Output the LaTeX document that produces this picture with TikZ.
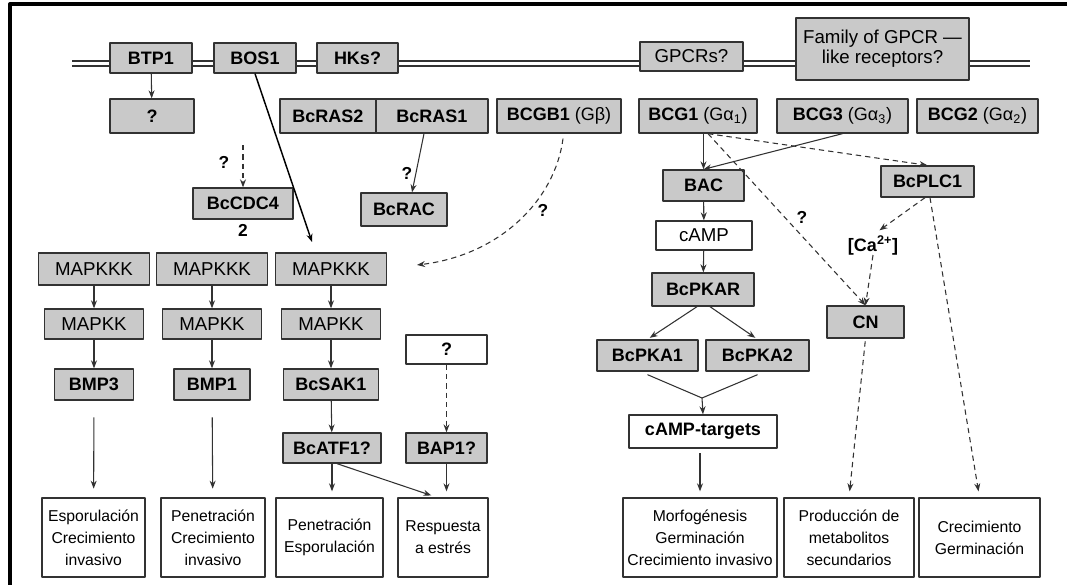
\documentclass[tikz,border=0pt]{standalone}
\usepackage{fontspec}
\setmainfont{Liberation Sans}
\usetikzlibrary{arrows.meta,positioning}
\definecolor{boxgray}{RGB}{201,201,201}
\definecolor{linegray}{RGB}{50,50,50}
\begin{document}
\begin{tikzpicture}[x=0.75pt,y=-0.75pt,line join=round,>={Stealth[length=6pt,width=4.5pt]},
	sz/.style 2 args={minimum width=#1*0.75pt,minimum height=#2*0.75pt},
	gbox/.style={draw=linegray,fill=boxgray,line width=1pt,inner sep=1pt,font=\fontsize{13.5}{15}\selectfont\bfseries},
	wbox/.style={gbox,fill=white},
	rg/.style={font=\fontsize{14}{15}\selectfont},
	outbox/.style={draw=linegray,line width=1pt,inner sep=1pt,align=center,font=\fontsize{11.8}{16.5}\selectfont},
	link/.style={draw=linegray,line width=0.8pt,->},
	dlink/.style={link,dash pattern=on 4pt off 3pt},
	qmark/.style={inner sep=0pt,font=\fontsize{13}{15}\selectfont\bfseries}]
	\useasboundingbox (0,0) rectangle (1067,585);
	\draw[line width=3pt] (10.3,585) -- (10.3,4) -- (1067,4);
	\draw[linegray,line width=0.9pt] (72,61) -- (1030,61) (72,66) -- (1030,66);
	% membrane
	\node[gbox,sz={82}{30}] (btp1) at (151,58) {BTP1};
	\node[gbox,sz={82}{30}] (bos1) at (255,58) {BOS1};
	\node[gbox,sz={81}{30}] (hks) at (357.5,58) {HKs?};
	\node[gbox,rg,sz={103}{29}] (gpcrs) at (691.5,56.5) {GPCRs?};
	\node[gbox,rg,sz={173}{62},align=center] (family) at (882.5,49) {Family of GPCR —\\like receptors?};
	% second row
	\node[gbox,sz={84}{34}] (qbtp) at (152,116) {?};
	\node[gbox,sz={96}{34}] (ras2) at (328,116) {BcRAS2};
	\node[gbox,sz={112}{34}] (ras1) at (432,116) {BcRAS1};
	\node[gbox,sz={124}{34}] (bcgb1) at (559,116) {BCGB1 \mdseries(Gβ)};
	\node[gbox,sz={118}{34}] (bcg1) at (698,116) {BCG1 \mdseries(Gα\textsubscript{1})};
	\node[gbox,sz={131}{34}] (bcg3) at (842.5,116) {BCG3 \mdseries(Gα\textsubscript{3})};
	\node[gbox,sz={121}{34}] (bcg2) at (977.5,116) {BCG2 \mdseries(Gα\textsubscript{2})};
	\node[gbox,sz={100}{31}] (cdc4) at (243,203.5) {BcCDC4};
	\node[qmark] (two) at (243,230) {2};
	\node[gbox,sz={86}{33}] (rac) at (404,209.5) {BcRAC};
	% MAP kinase cascades
	\foreach \n/\x/\lab/\w in {1/94/BMP3/79,2/212/BMP1/76,3/331/BcSAK1/95}{
		\node[gbox,rg,sz={111}{32}] (mkkk\n) at (\x,269) {MAPKKK};
		\node[gbox,rg,sz={99}{30}] (mkk\n) at (\x,324) {MAPKK};
		\node[gbox,sz={\w}{31}] (mapk\n) at (\x,384.5) {\lab};
		\draw[link] (mkkk\n) -- (mkk\n);
		\draw[link] (mkk\n) -- (mapk\n);
	}
	\node[wbox,sz={81}{29}] (qbap) at (446.5,349.5) {?};
	\node[gbox,sz={98}{30}] (atf1) at (332,448) {BcATF1?};
	\node[gbox,sz={81}{30}] (bap1) at (446.5,448) {BAP1?};
	% cAMP branch
	\node[gbox,sz={81}{31}] (bac) at (703.5,185.5) {BAC};
	\node[wbox,rg,sz={96}{29}] (camp) at (704,235.5) {cAMP};
	\node[gbox,sz={102}{33}] (pkar) at (703,289.5) {BcPKAR};
	\node[gbox,sz={101}{31}] (pka1) at (647.5,355.5) {BcPKA1};
	\node[gbox,sz={103}{31}] (pka2) at (757.5,355.5) {BcPKA2};
	\node[wbox,sz={148}{33}] (targets) at (703,431.5) {cAMP-targets};
	\node[gbox,sz={93}{31}] (plc1) at (927.5,181.5) {BcPLC1};
	\node[qmark,font=\fontsize{13.5}{15}\selectfont\bfseries] (ca) at (873,245) {[Ca\textsuperscript{2+}]};
	\node[gbox,sz={77}{32}] (cn) at (865.5,322) {CN};
	% outputs
	\node[outbox,sz={103}{79}] (out1) at (93.5,537.5) {Esporulación\\Crecimiento\\invasivo};
	\node[outbox,sz={104}{79}] (out2) at (213,537.5) {Penetración\\Crecimiento\\invasivo};
	\node[outbox,sz={107}{79}] (out3) at (329.5,537.5) {Penetración\\Esporulación};
	\node[outbox,sz={90}{79}] (out4) at (443,537.5) {Respuesta\\a estrés};
	\node[outbox,sz={154}{79}] (out5) at (700,537.5) {Morfogénesis\\Germinación\\Crecimiento invasivo};
	\node[outbox,sz={130}{79}] (out6) at (849,537.5) {Producción de\\metabolitos\\secundarios};
	\node[outbox,sz={121}{79}] (out7) at (979.5,537.5) {Crecimiento\\Germinación};
	% free ends and question marks
	\path
	(243,145) coordinate (cdcin)
	(312,242) coordinate (bosend)
	(417,265) coordinate (gbend)
	(702,398) coordinate (merge)
	;
	\node[qmark] (q1) at (224,162) {?};
	\node[qmark] (q2) at (407,173) {?};
	\node[qmark] (q3) at (543,210) {?};
	\node[qmark] (q4) at (802,217) {?};
	% connectors
	\draw[link] (btp1) -- (qbtp);
	\draw[link,draw=black,line width=1.1pt] (bos1.south) -- (bosend);
	\draw[dlink] (cdcin) -- (cdc4.north);
	\draw[link] ([shift={(-8,0)}]ras1.south) -- ([shift={(8,0)}]rac.north);
	\draw[dlink] ([shift={(4,5)}]bcgb1.south) .. controls (555,200) and (500,255) .. (gbend);
	\draw[link,shorten <=12.5pt,shorten >=6.5pt] (mapk1) -- (out1);
	\draw[link,shorten <=12.5pt,shorten >=6.5pt] (mapk2) -- (out2);
	\draw[link] (mapk3) -- (atf1);
	\draw[dlink] (qbap) -- (bap1);
	\draw[link,shorten >=4.5pt] (atf1.south) -- (atf1.south |- out3.north);
	\draw[link,shorten >=4.5pt] ([shift={(5,0)}]atf1.south) -- ([shift={(-6,0)}]out4.north);
	\draw[link,shorten >=4.5pt] (bap1) -- (bap1.south |- out4.north);
	\draw[link] (bcg1.south -| bac.north) -- (bac.north);
	\draw[link] (bcg3.south) -- (bac.north);
	\draw[dlink] ([shift={(10,0)}]bcg1.south) -- (plc1.north);
	\draw[dlink] ([shift={(10,0)}]bcg1.south) -- (cn.north);
	\draw[link] (bac) -- (camp);
	\draw[link] (camp) -- (pkar);
	\draw[link,shorten >=2pt] ([shift={(-6,0)}]pkar.south) -- (pka1.north);
	\draw[link,shorten >=2pt] ([shift={(7,0)}]pkar.south) -- (pka2.north);
	\draw[linegray,line width=0.8pt] ([shift={(0,3)}]pka1.south) -- (merge) -- ([shift={(0,3)}]pka2.south);
	\draw[link] (merge) -- (targets.north);
	\draw[link,shorten <=3.5pt,shorten >=4.5pt] (targets.south -| out5.north) -- (out5.north);
	\draw[dlink,shorten >=6pt] ([shift={(-2.5,0)}]plc1.south) -- (ca.north);
	\draw[dlink] (ca.south) -- (cn.north);
	\draw[dlink,shorten <=2pt,shorten >=4.5pt] (cn.south) -- (out6.north);
	\draw[dlink,shorten >=4.5pt] ([shift={(2.5,0)}]plc1.south) -- (out7.north);
\end{tikzpicture}
\end{document}
